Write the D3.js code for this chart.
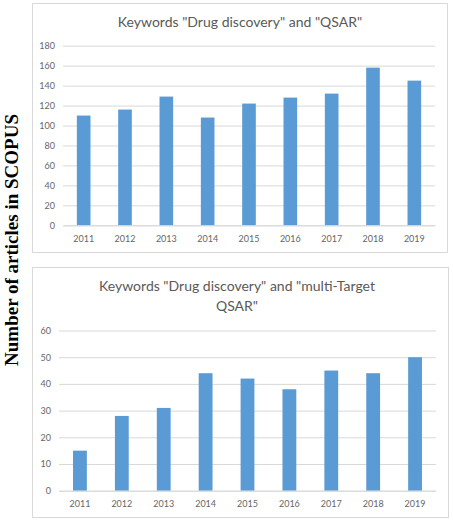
<!DOCTYPE html>
<html>
<head>
<meta charset="utf-8">
<script src="https://cdn.jsdelivr.net/npm/d3@7"></script>
<style>
  body { margin: 0; background: #fff; }
  svg { display: block; }
  text { font-family: Lato, "Open Sans", sans-serif; fill: #595959; }
</style>
</head>
<body>
<div id="chart"></div>
<script>
const years = ['2011', '2012', '2013', '2014', '2015', '2016', '2017', '2018', '2019'];
const qsarCounts = [110, 116, 129, 108, 122, 128, 132, 158, 145];
const mtQsarCounts = [15, 28, 31, 44, 42, 38, 45, 44, 50];
const qsarTicks = [0, 20, 40, 60, 80, 100, 120, 140, 160, 180];
const mtQsarTicks = [0, 10, 20, 30, 40, 50, 60];
const qsarTitle = ['Keywords "Drug discovery" and "QSAR"'];
const mtQsarTitle = ['Keywords "Drug discovery" and "multi-Target', 'QSAR"'];
const yTitle = 'Number of articles in SCOPUS';

const width = 453, height = 531;

const svg = d3.select('#chart').append('svg')
  .attr('width', width)
  .attr('height', height);

// one boxed bar chart
function drawPanel(cfg) {
  const g = svg.append('g');

  g.append('rect')
    .attr('x', cfg.box[0] + 0.5)
    .attr('y', cfg.box[1] + 0.5)
    .attr('width', cfg.box[2] - cfg.box[0])
    .attr('height', cfg.box[3] - cfg.box[1])
    .attr('fill', '#fff')
    .attr('stroke', '#d9d9d9');

  g.selectAll('.title')
    .data(cfg.title)
    .enter()
    .append('text')
    .attr('class', 'title')
    .attr('x', cfg.titleX)
    .attr('y', (d, i) => cfg.titleY + i * 20)
    .attr('text-anchor', 'middle')
    .style('font-size', '14px')
    .text(d => d);

  const x = d3.scaleBand()
    .domain(years)
    .range([cfg.left, cfg.right])
    .paddingInner(0.67)
    .paddingOuter(0.335);

  const y = d3.scaleLinear()
    .domain([0, d3.max(cfg.ticks)])
    .range([cfg.bottom, cfg.top]);

  const yAxis = d3.axisLeft(y).tickValues(cfg.ticks).tickSize(-(cfg.right - cfg.left)).tickPadding(8);
  const ya = g.append('g')
    .attr('transform', 'translate(' + cfg.left + ',0)')
    .call(yAxis);
  ya.select('.domain').remove();
  ya.selectAll('line').attr('stroke', '#d9d9d9');
  ya.selectAll('text').style('font-size', '9px').style('fill', '#666');

  g.selectAll('.bar')
    .data(cfg.values)
    .enter()
    .append('rect')
    .attr('class', 'bar')
    .attr('x', (d, i) => x(years[i]))
    .attr('y', d => y(d))
    .attr('width', x.bandwidth())
    .attr('height', d => y(0) - y(d))
    .attr('fill', '#5b9bd5');

  const xAxis = d3.axisBottom(x).tickSize(0).tickPadding(cfg.xPad);
  const xa = g.append('g')
    .attr('transform', 'translate(0,' + cfg.bottom + ')')
    .call(xAxis);
  xa.select('.domain').attr('stroke', '#d9d9d9');
  xa.selectAll('text').style('font-size', '9px').style('fill', '#666');
}

drawPanel({
  box: [32, 3, 447, 252],
  title: qsarTitle, titleX: 240, titleY: 27,
  left: 63, right: 435, top: 45.7, bottom: 225.3,
  ticks: qsarTicks, values: qsarCounts, xPad: 10
});

drawPanel({
  box: [32, 267, 448, 517],
  title: mtQsarTitle, titleX: 237, titleY: 291,
  left: 59, right: 436, top: 330.5, bottom: 490.7,
  ticks: mtQsarTicks, values: mtQsarCounts, xPad: 10
});

svg.append('text')
  .attr('transform', 'translate(18,240) rotate(-90)')
  .attr('text-anchor', 'middle')
  .style('font-family', '"Liberation Serif", "DejaVu Serif", serif')
  .style('font-weight', 'bold')
  .style('font-size', '19px')
  .style('fill', '#000')
  .text(yTitle);
</script>
</body>
</html>
